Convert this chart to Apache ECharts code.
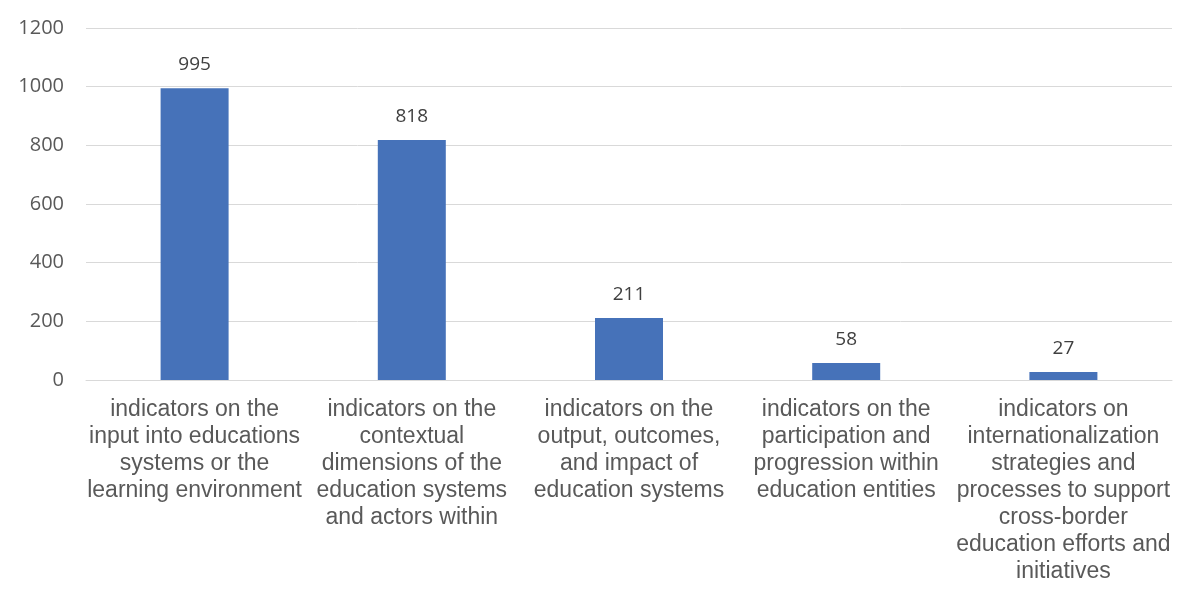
<!DOCTYPE html>
<html><head><meta charset="utf-8">
<script src="https://cdn.jsdelivr.net/npm/echarts@6/dist/echarts.min.js"></script>
<style>html,body{margin:0;padding:0;background:#fff}#c{width:1200px;height:598px}</style>
</head><body><div id="c"></div>
<script>
const categories = [
  "indicators on the\ninput into educations\nsystems or the\nlearning environment",
  "indicators on the\ncontextual\ndimensions of the\neducation systems\nand actors within",
  "indicators on the\noutput, outcomes,\nand impact of\neducation systems",
  "indicators on the\nparticipation and\nprogression within\neducation entities",
  "indicators on\ninternationalization\nstrategies and\nprocesses to support\ncross-border\neducation efforts and\ninitiatives"
];
const values = [995, 818, 211, 58, 27];
const yTicks = { min: 0, max: 1200, interval: 200 };

const chart = echarts.init(document.getElementById('c'));
chart.setOption({
  animation: false,
  grid: { left: 86, right: 28, top: 28, bottom: 218 },
  xAxis: {
    type: 'category', data: categories,
    axisTick: { show: false },
    axisLine: { lineStyle: { color: '#d9d9d9', width: 1 } },
    axisLabel: { interval: 0, color: '#595959', fontFamily: 'Liberation Sans, Arial', fontSize: 23, lineHeight: 27, margin: 16 }
  },
  yAxis: {
    type: 'value', min: yTicks.min, max: yTicks.max, interval: yTicks.interval,
    axisLine: { show: false }, axisTick: { show: false },
    splitLine: { lineStyle: { color: '#d9d9d9', width: 1 } },
    axisLabel: { color: '#595959', fontFamily: 'Open Sans', fontSize: 20, margin: 22, formatter: v => String(v) }
  },
  series: [{
    type: 'bar', data: values, barWidth: 68,
    itemStyle: { color: '#4672B9' },
    label: { show: true, position: 'top', distance: 14, color: '#404040', fontFamily: 'Open Sans', fontSize: 19 }
  }]
});
</script></body></html>
